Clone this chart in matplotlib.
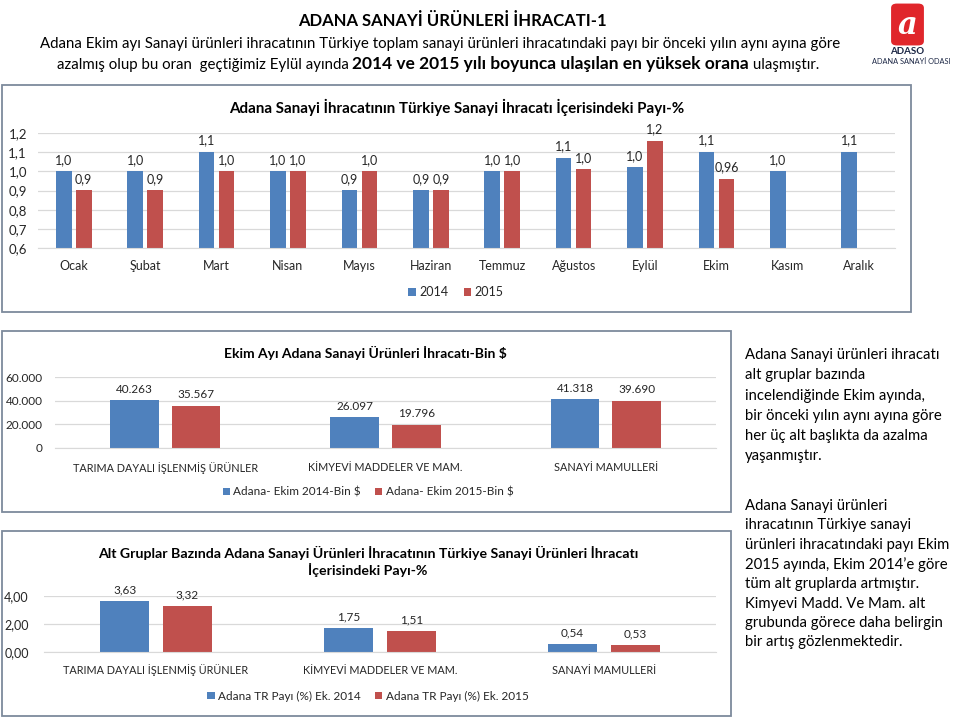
import matplotlib.pyplot as plt
import numpy as np
from matplotlib.patches import FancyBboxPatch, Rectangle

plt.rcParams["font.family"] = ["Lato", "DejaVu Sans"]

W, H = 959, 718
BLUE = "#4F81BD"
RED = "#C0504D"
BORDER = "#7d8a9c"
GRID = "#d9d9d9"
TXT = "#262626"

# monthly share of Adana in Turkish industrial exports (%)
months = ["Ocak", "Şubat", "Mart", "Nisan", "Mayıs", "Haziran",
          "Temmuz", "Ağustos", "Eylül", "Ekim", "Kasım", "Aralık"]
share_2014 = [1.0, 1.0, 1.1, 1.0, 0.9, 0.9, 1.0, 1.07, 1.02, 1.1, 1.0, 1.1]
share_2015 = [0.9, 0.9, 1.0, 1.0, 1.0, 0.9, 1.0, 1.01, 1.16, 0.96, np.nan, np.nan]
share_2014_labels = ["1,0", "1,0", "1,1", "1,0", "0,9", "0,9",
                     "1,0", "1,1", "1,0", "1,1", "1,0", "1,1"]
share_2015_labels = ["0,9", "0,9", "1,0", "1,0", "1,0", "0,9",
                     "1,0", "1,0", "1,2", "0,96", "", ""]

# sub groups, october exports (thousand $) and share in Turkey (%)
groups = ["TARIMA DAYALI İŞLENMİŞ ÜRÜNLER", "KİMYEVİ MADDELER VE MAM.", "SANAYİ MAMULLERİ"]
export_2014 = [40263, 26097, 41318]
export_2015 = [35567, 19796, 39690]
tr_share_2014 = [3.63, 1.75, 0.54]
tr_share_2015 = [3.32, 1.51, 0.53]


def px_axes(fig, x0, y0, x1, y1):
    return fig.add_axes([x0 / W, 1 - y1 / H, (x1 - x0) / W, (y1 - y0) / H])


def frame(fig, x0, y0, x1, y1):
    fig.patches.append(Rectangle((x0 / W, 1 - y1 / H), (x1 - x0) / W, (y1 - y0) / H,
                                 transform=fig.transFigure, fill=False,
                                 ec=BORDER, lw=1.3))


def ftext(fig, x, y, s, **kw):
    return fig.text(x / W, 1 - y / H, s, color=kw.pop("color", TXT), **kw)


def style(ax, n, ylim, ticks, ticklabels, xpad, ypad, fs):
    ax.set_xlim(-0.5, n - 0.5)
    ax.set_ylim(*ylim)
    ax.set_yticks(ticks)
    ax.set_yticklabels(ticklabels, fontsize=fs, color=TXT)
    for s in ax.spines.values():
        s.set_visible(False)
    ax.spines["bottom"].set_visible(True)
    ax.spines["bottom"].set_color(GRID)
    ax.yaxis.grid(True, color=GRID, lw=0.9)
    ax.set_axisbelow(True)
    ax.tick_params(axis="both", length=0)
    ax.tick_params(axis="x", pad=xpad)
    ax.tick_params(axis="y", pad=ypad)
    ax.patch.set_alpha(0)


def pair_bars(ax, cats, v1, v2, l1, l2, fs, lab_fs, name1, name2):
    x = np.arange(len(cats))
    b1 = ax.bar(x - 0.14, v1, 0.22, color=BLUE, label=name1)
    b2 = ax.bar(x + 0.14, v2, 0.22, color=RED, label=name2)
    ax.bar_label(b1, labels=l1, padding=4, fontsize=lab_fs, color=TXT)
    ax.bar_label(b2, labels=l2, padding=4, fontsize=lab_fs, color=TXT)
    ax.set_xticks(x)
    ax.set_xticklabels(cats, fontsize=fs, color=TXT)
    return b1, b2


def legend(fig, handles, x, y, fs):
    fig.legend(handles=handles, loc="center", bbox_to_anchor=(x / W, 1 - y / H),
               ncol=2, frameon=False, fontsize=fs, handlelength=0.6, handleheight=0.6,
               handletextpad=0.3, columnspacing=1.2, labelcolor=TXT)


fig = plt.figure(figsize=(W / 100, H / 100), dpi=100)
renderer = fig.canvas.get_renderer()

# ---- header ----
ftext(fig, 452, 26, "ADANA SANAYİ ÜRÜNLERİ İHRACATI-1", fontsize=12,
      fontweight="bold", ha="center", va="baseline", color="black")
ftext(fig, 440, 48, "Adana Ekim ayı Sanayi ürünleri ihracatının Türkiye toplam sanayi "
      "ürünleri ihracatındaki payı bir önceki yılın aynı ayına göre",
      fontsize=10.8, ha="center", va="baseline", color="black")

parts = [("azalmış olup bu oran  geçtiğimiz Eylül ayında ", "normal", 10.8),
         ("2014 ve 2015 yılı boyunca ulaşılan en yüksek orana", "bold", 12.5),
         (" ulaşmıştır.", "normal", 10.8)]
pieces = []
for s, wt, sz in parts:
    pieces.append(ftext(fig, 0, 69, s, fontsize=sz, fontweight=wt,
                        ha="left", va="baseline", color="black"))
widths = [t.get_window_extent(renderer).width for t in pieces]
x = 438 - sum(widths) / 2
for t, w in zip(pieces, widths):
    t.set_x(x / W)
    x += w

# ---- logo ----
fig.patches.append(FancyBboxPatch((893 / W, 1 - 44 / H), 29 / W, 39 / H,
                                  boxstyle="round,pad=0.002,rounding_size=0.006",
                                  transform=fig.transFigure, fc="#e0262b", ec="none"))
ftext(fig, 907, 26, "a", fontsize=22, fontstyle="italic", fontweight="bold",
      family="DejaVu Serif", ha="center", va="center", color="white")
ftext(fig, 907, 51, "ADASO", fontsize=7, fontweight="bold", ha="center",
      va="center", color="#1c2745")
ftext(fig, 911, 62, "ADANA SANAYİ ODASI", fontsize=5.3, ha="center",
      va="center", color="#1c2745")

# ---- chart 1: monthly share ----
frame(fig, 2, 85, 911, 312)
ax1 = px_axes(fig, 38, 133, 895, 248)
style(ax1, 12, (0.6, 1.2), np.arange(0.6, 1.21, 0.1),
      ["0,6", "0,7", "0,8", "0,9", "1,0", "1,1", "1,2"], 9, 8, 9.5)
h1, h2 = pair_bars(ax1, months, share_2014, share_2015,
                   share_2014_labels, share_2015_labels, 9, 9, "2014", "2015")
ftext(fig, 457, 107, "Adana Sanayi İhracatının Türkiye Sanayi İhracatı İçerisindeki Payı-%",
      fontsize=10.9, fontweight="bold", ha="center", va="center", color="black")
legend(fig, [h1, h2], 456, 292, 9)

# ---- chart 2: october exports ----
frame(fig, 2, 331, 731, 512)
ax2 = px_axes(fig, 55, 377, 716, 448)
style(ax2, 3, (0, 60000), [0, 20000, 40000, 60000],
      ["0", "20.000", "40.000", "60.000"], 10, 9, 8.5)
lab14 = [f"{v:,}".replace(",", ".") for v in export_2014]
lab15 = [f"{v:,}".replace(",", ".") for v in export_2015]
g1, g2 = pair_bars(ax2, groups, export_2014, export_2015, lab14, lab15, 7.8, 8.5,
                   "Adana- Ekim 2014-Bin $", "Adana- Ekim 2015-Bin $")
ftext(fig, 365, 353, "Ekim Ayı Adana Sanayi Ürünleri İhracatı-Bin $",
      fontsize=10, fontweight="bold", ha="center", va="center", color="black")
legend(fig, [g1, g2], 368, 492, 8.5)

# ---- chart 3: share of sub groups ----
frame(fig, 2, 531, 731, 716)
ax3 = px_axes(fig, 44, 596, 716, 652)
style(ax3, 3, (0, 4), [0, 2, 4], ["0,00", "2,00", "4,00"], 9, 11, 9)
lab14 = [f"{v:.2f}".replace(".", ",") for v in tr_share_2014]
lab15 = [f"{v:.2f}".replace(".", ",") for v in tr_share_2015]
k1, k2 = pair_bars(ax3, groups, tr_share_2014, tr_share_2015, lab14, lab15, 7.8, 8.5,
                   "Adana TR Payı (%) Ek. 2014", "Adana TR Payı (%) Ek. 2015")
ftext(fig, 368, 561, "Alt Gruplar Bazında Adana Sanayi Ürünleri İhracatının Türkiye Sanayi Ürünleri İhracatı\nİçerisindeki Payı-%",
      fontsize=10.2, fontweight="bold", ha="center", va="center", color="black",
      multialignment="center", linespacing=1.25)
legend(fig, [k1, k2], 368, 696, 8.5)

# ---- side notes ----
ftext(fig, 745, 348, "Adana Sanayi ürünleri ihracatı\nalt gruplar bazında\n"
      "incelendiğinde Ekim ayında,\nbir önceki yılın aynı ayına göre\n"
      "her üç alt başlıkta da azalma\nyaşanmıştır.",
      fontsize=10.7, ha="left", va="top", linespacing=1.57, color="black")
ftext(fig, 745, 499, "Adana Sanayi ürünleri\nihracatının Türkiye sanayi\n"
      "ürünleri ihracatındaki payı Ekim\n2015 ayında, Ekim 2014’e göre\n"
      "tüm alt gruplarda artmıştır.\nKimyevi Madd. Ve Mam. alt\n"
      "grubunda görece daha belirgin\nbir artış gözlenmektedir.",
      fontsize=10.7, ha="left", va="top", linespacing=1.48, color="black")

fig.savefig("out.png", dpi=100)
